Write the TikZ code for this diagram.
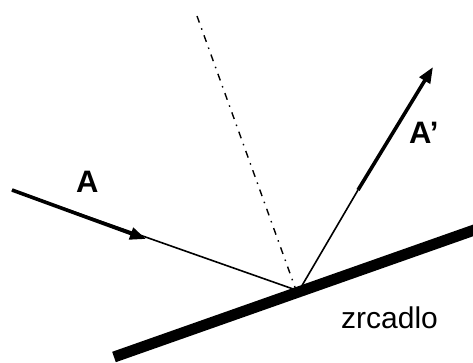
\documentclass[tikz,border=0pt]{standalone}
\usepackage{fontspec}
\setmainfont{Liberation Sans}
\usetikzlibrary{arrows.meta}
\tikzset{
  paprsek/.style={line width=1.6pt},
  vektor/.style={line width=3.6pt,-{Triangle[length=16pt,width=12pt]}},
  kolmice/.style={line width=1.4pt,dash pattern=on 7pt off 6pt on 1.5pt off 6pt},
  popis/.style={inner sep=0pt,anchor=base west,font=\fontsize{31}{33}\selectfont\bfseries}
}
\begin{document}
\begin{tikzpicture}[x=1pt,y=-1pt]
        \useasboundingbox (0,0) rectangle (473,363);
        % Body
        \coordinate (zacatek) at (12,190);
        \coordinate (hrot) at (146,239);
        \coordinate (dopad) at (296,290);
        \coordinate (odraz) at (300,289);
        \coordinate (zlom) at (358,190);
        \coordinate (konec) at (433,67);
        \coordinate (normala) at (197,16);
        \coordinate (zrcL) at (114,357);
        \coordinate (zrcP) at (480,228);
        % Paprsky
        \draw [paprsek] (zacatek) -- (dopad);
        \draw [vektor] (zacatek) -- (hrot);
        \draw [paprsek] (odraz) -- (zlom);
        \draw [vektor] (zlom) -- (konec);
        \draw [kolmice] (normala) -- (dopad);
        % Zrcadlo
        \draw [line width=11pt] (zrcL) -- (zrcP);
        % Popisy
        \node [popis] (a) at (76,193) {A};
        \node [popis] (a2) at (409,144) {A’};
        \node [inner sep=0pt,anchor=base west,font=\fontsize{30}{32}\selectfont] (zrcadlo) at (341,328) {zrcadlo};
    \end{tikzpicture}
\end{document}
